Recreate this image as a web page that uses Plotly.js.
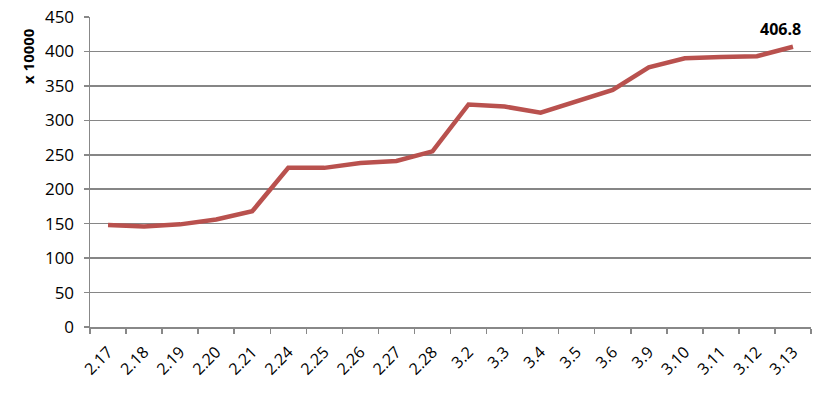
<!DOCTYPE html>
<html><head><meta charset="utf-8">
<script src="https://cdn.plot.ly/plotly-3.0.1.min.js"></script>
<style>body{margin:0;background:#fff}#c{width:826px;height:394px}</style>
</head><body><div id="c"></div>
<script>
const dates = ["2.17","2.18","2.19","2.20","2.21","2.24","2.25","2.26","2.27","2.28","3.2","3.3","3.4","3.5","3.6","3.9","3.10","3.11","3.12","3.13"];
const values = [148,146,149,156,168,231,231,238,241,255,323,320,311,328,344,377,390,392,393,406.8];
const yTicks = [0,50,100,150,200,250,300,350,400,450];
const lastLabel = "406.8";
const yTitle = "x 10000";

const trace = {
  x: dates, y: values, type: "scatter", mode: "lines",
  line: {color: "#B9514E", width: 4.5}, hoverinfo: "none"
};
const font = {family: "Open Sans, Liberation Sans, sans-serif", color: "#000"};
const layout = {
  width: 826, height: 394,
  margin: {l: 90, r: 15, t: 17, b: 67},
  paper_bgcolor: "#fff", plot_bgcolor: "#fff",
  showlegend: false,
  xaxis: {
    type: "category", range: [-0.5, dates.length - 0.5],
    tickson: "boundaries", ticks: "outside", ticklen: 5,
    tickcolor: "#888", tickwidth: 1.5, showgrid: false,
    showline: true, linecolor: "#888", linewidth: 1.5,
    tickangle: -45, ticklabelstandoff: 8,
    tickfont: Object.assign({size: 16}, font)
  },
  yaxis: {
    range: [0, 450], tickvals: yTicks, ticktext: yTicks.map(String),
    ticks: "outside", ticklen: 5, tickcolor: "#888", tickwidth: 1.5,
    showgrid: true, gridcolor: "#868686", gridwidth: 1.5, zeroline: false,
    showline: true, linecolor: "#888", linewidth: 1.5,
    ticklabelstandoff: 6,
    tickfont: Object.assign({size: 17}, font)
  },
  annotations: [{
    x: dates.length - 1, y: values[values.length-1], xref: "x", yref: "y",
    text: "<b>" + lastLabel + "</b>", showarrow: false,
    xanchor: "center", yanchor: "bottom", xshift: -12, yshift: 5,
    font: Object.assign({size: 16}, font)
  }, {
    x: 0, y: 0, xref: "paper", yref: "paper", textangle: -90,
    text: "<b>" + yTitle + "</b>", showarrow: false,
    xanchor: "center", yanchor: "middle",
    font: Object.assign({size: 15}, font)
  }]
};
// position y-title in pixels
layout.annotations[1].x = (28 - 90) / (826 - 90 - 15);
layout.annotations[1].y = (394 - 67 - 56) / (394 - 17 - 67);
Plotly.newPlot("c", [trace], layout, {staticPlot: true});
</script></body></html>
